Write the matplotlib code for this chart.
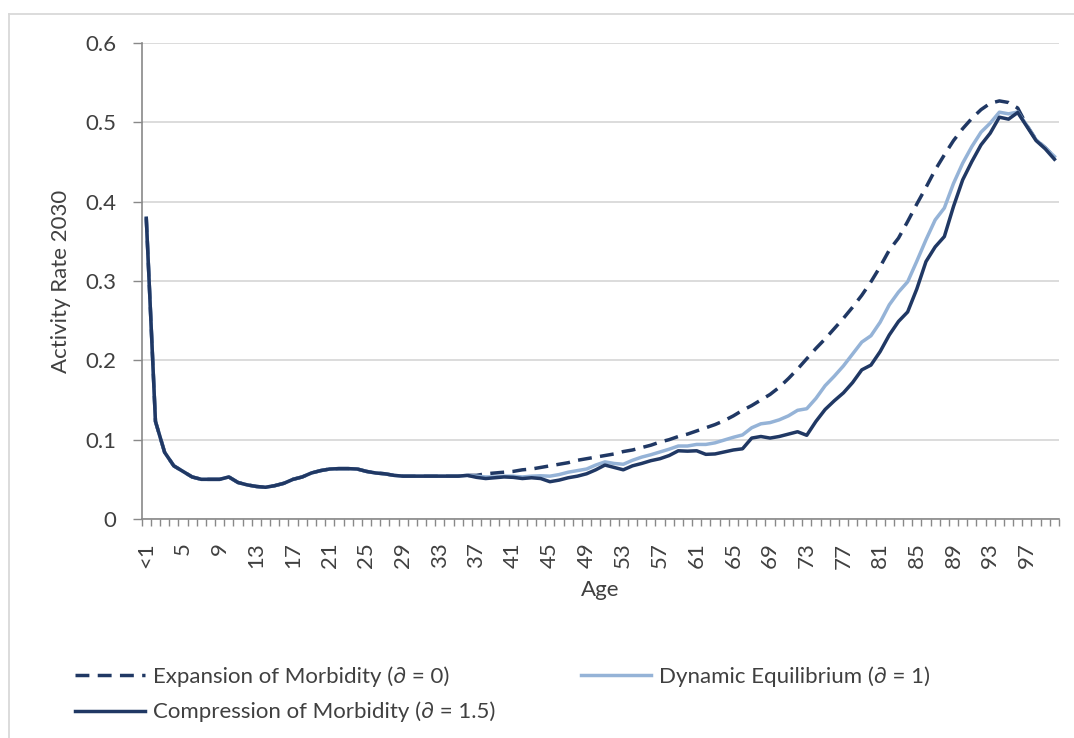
import matplotlib
matplotlib.use("Agg")
import matplotlib.pyplot as plt
from matplotlib.lines import Line2D
import numpy as np

plt.rcParams['font.family'] = ['Lato', 'DejaVu Sans']

# ---------------- data ----------------
age_labels = ["<1"] + [str(a) for a in range(2, 101)]

# values shared by all three scenarios (ages <1 .. 36)
shared_young = [0.379, 0.123, 0.084, 0.067, 0.060, 0.053, 0.050, 0.050, 0.050, 0.053,
                0.046, 0.043, 0.041, 0.040, 0.042, 0.045, 0.050, 0.053, 0.058, 0.061,
                0.063, 0.0635, 0.0635, 0.063, 0.060, 0.058, 0.057, 0.055, 0.054, 0.054,
                0.054, 0.054, 0.054, 0.054, 0.054, 0.055]

expansion_old = [0.055, 0.057, 0.058, 0.059, 0.060, 0.062, 0.063, 0.065, 0.067, 0.069,
                 0.071, 0.074, 0.076, 0.078, 0.080, 0.082, 0.085, 0.087, 0.090, 0.093,
                 0.097, 0.100, 0.104, 0.107, 0.111, 0.115, 0.119, 0.124, 0.130, 0.137,
                 0.143, 0.150, 0.157, 0.166, 0.177, 0.189, 0.202, 0.215, 0.227, 0.240,
                 0.253, 0.267, 0.282, 0.299, 0.318, 0.339, 0.354, 0.375, 0.397, 0.418,
                 0.440, 0.459, 0.477, 0.492, 0.505, 0.516, 0.524, 0.527, 0.525, 0.518,
                 0.496, 0.478, 0.468, 0.456]

dynamic_old = [0.054, 0.053, 0.053, 0.054, 0.054, 0.053, 0.054, 0.0545, 0.054, 0.056,
               0.059, 0.061, 0.063, 0.068, 0.072, 0.070, 0.069, 0.074, 0.078, 0.081,
               0.0845, 0.088, 0.092, 0.092, 0.094, 0.094, 0.096, 0.0995, 0.103, 0.106,
               0.115, 0.120, 0.1215, 0.125, 0.130, 0.137, 0.139, 0.152, 0.168, 0.180,
               0.193, 0.208, 0.223, 0.231, 0.248, 0.270, 0.286, 0.299, 0.325, 0.352,
               0.377, 0.392, 0.423, 0.4485, 0.4695, 0.4876, 0.499, 0.5128, 0.5107, 0.513,
               0.496, 0.478, 0.468, 0.457]

compression_old = [0.0525, 0.051, 0.052, 0.053, 0.0525, 0.051, 0.052, 0.051, 0.047, 0.049,
                   0.052, 0.054, 0.057, 0.062, 0.068, 0.065, 0.062, 0.067, 0.070, 0.0735,
                   0.076, 0.080, 0.086, 0.0855, 0.086, 0.0815, 0.082, 0.0845, 0.087, 0.0885,
                   0.102, 0.104, 0.102, 0.104, 0.107, 0.110, 0.1055, 0.123, 0.138, 0.149,
                   0.159, 0.172, 0.188, 0.194, 0.211, 0.232, 0.249, 0.261, 0.290, 0.3245,
                   0.343, 0.356, 0.394, 0.4275, 0.4506, 0.4716, 0.4863, 0.5065, 0.504, 0.5124,
                   0.4947, 0.477, 0.4666, 0.4535]

series_names = ["Expansion of Morbidity (\u2202 = 0)",
                "Dynamic Equilibrium (\u2202 = 1)",
                "Compression of Morbidity (\u2202 = 1.5)"]

y_ticks = [0, 0.1, 0.2, 0.3, 0.4, 0.5, 0.6]
y_tick_labels = ["0", "0.1", "0.2", "0.3", "0.4", "0.5", "0.6"]

expansion = shared_young + expansion_old
dynamic = shared_young + dynamic_old
compression = shared_young + compression_old

# ---------------- figure ----------------
W, H = 1074, 738
fig = plt.figure(figsize=(W / 100, H / 100), dpi=100)
ax = fig.add_axes([141.7 / W, 1 - 519 / H, (1059 - 141.7) / W, (519 - 43) / H])

dark = "#203864"
light = "#95B3D7"
grid_c = "#D9D9D9"
axis_c = "#898989"
text_c = "#404040"
fs = 16

x = np.arange(len(age_labels))
l_exp, = ax.plot(x, expansion, color=dark, lw=2.5, zorder=3)
l_exp.set_dashes([4.0, 2.4])
l_dyn, = ax.plot(x, dynamic, color=light, lw=2.5, zorder=4, solid_joinstyle='round')
l_cmp, = ax.plot(x, compression, color=dark, lw=2.5, zorder=5, solid_joinstyle='round')

ax.set_xlim(-0.5, len(age_labels) - 0.5)
ax.set_ylim(0, 0.6)

# gridlines
ax.set_yticks(y_ticks)
ax.set_yticklabels(y_tick_labels, fontsize=fs, color=text_c)
ax.yaxis.grid(True, color=grid_c, lw=1.3)
ax.set_axisbelow(True)
ax.tick_params(axis='y', length=6.5, width=1.0, color=axis_c, pad=12)

# x ticks: marks at category boundaries, labels every 4th category
ax.set_xticks(np.arange(-0.5, len(age_labels), 1.0))
ax.set_xticklabels([])
ax.tick_params(axis='x', which='major', length=5, width=1.0, color=axis_c)
ax.set_xticks(x[::4], minor=True)
ax.set_xticklabels(age_labels[::4], minor=True, rotation=90, fontsize=fs, color=text_c)
ax.tick_params(axis='x', which='minor', length=0, pad=17)

for s in ['top', 'right']:
    ax.spines[s].set_visible(False)
for s in ['left', 'bottom']:
    ax.spines[s].set_color(axis_c)
    ax.spines[s].set_linewidth(1.2)

ax.set_xlabel("Age", fontsize=fs, color=text_c, labelpad=8)
ax.set_ylabel("Activity Rate 2030", fontsize=fs, color=text_c, labelpad=10)

# chart-area border (top and left visible)
fig.add_artist(Line2D([8.5 / W, 1.0], [1 - 13.5 / H] * 2, color=grid_c, lw=1.3,
                      transform=fig.transFigure))
fig.add_artist(Line2D([8.5 / W] * 2, [0.0, 1 - 13.5 / H], color=grid_c, lw=1.3,
                      transform=fig.transFigure))

leg = fig.legend([l_exp, l_cmp, l_dyn], [series_names[0], series_names[2], series_names[1]],
                 ncol=2, loc='upper left', bbox_to_anchor=(75 / W, 1 - 666 / H),
                 frameon=False, fontsize=fs, handlelength=3.15, handletextpad=0.36,
                 columnspacing=3.85, labelspacing=0.68, borderpad=0, borderaxespad=0)
for t in leg.get_texts():
    t.set_color(text_c)

fig.savefig("out.png", dpi=100)
